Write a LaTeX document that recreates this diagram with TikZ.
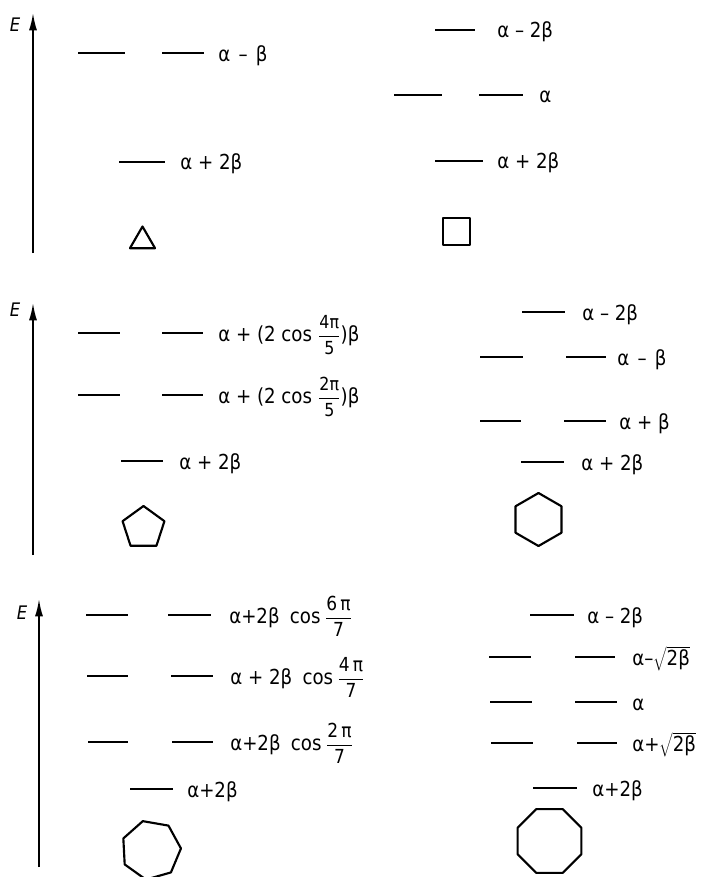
\documentclass[tikz,border=0pt]{standalone}
\usepackage{fontspec}
\setmainfont[FakeStretch=0.88]{DejaVu Sans}
\usetikzlibrary{arrows.meta}
\newcommand\fsm{\fontsize{13.5}{14}\selectfont}
\newcommand\fsb{\fontsize{14.5}{15}\selectfont}
\newcommand\fr[2]{$\displaystyle\frac{\mbox{\fsm #1}}{\mbox{\fsm #2}}$}
\newcommand\frb[2]{$\displaystyle\frac{\mbox{\fsb #1}}{\mbox{\fsb #2}}$}
\newcommand\sq[1]{$\sqrt{\mbox{#1}}$}
\newcommand\msp{\hspace{0.4em}}
\newcommand\ngon[6]{% cx cy R n n-1 a0
  \draw[poly] ({#1+#3*cos(#6)},{#2-#3*sin(#6)})
    \foreach \i in {1,...,#5}{ -- ({#1+#3*cos(#6+360*\i/#4)},{#2-#3*sin(#6+360*\i/#4)})} -- cycle;}
\begin{document}
\begin{tikzpicture}[x=0.75pt,y=-0.75pt,
  lvl/.style={line width=2.1pt},
  lab/.style={anchor=base west, inner sep=0pt, font=\fontsize{15.5}{17}\selectfont},
  axis/.style={line width=1.3pt, -{Latex[length=13pt,width=6pt]}},
  elab/.style={font=\fontsize{14}{15}\selectfont\itshape, inner sep=0pt},
  poly/.style={line width=1.6pt, line join=round}]
\useasboundingbox (0,0) rectangle (714,877);
% ---------- panel 1: triangle
\coordinate (A1s) at (33,253); \coordinate (A1e) at (33,13);
\draw[axis] (A1s) -- (A1e);
\node[elab] (E1) at (15,25) {E};
\draw[lvl] (78,53) -- (125,53); \draw[lvl] (162,53) -- (204,53);
\node[lab] (t1a) at (218,62) {α\msp–\msp β};
\draw[lvl] (119,162) -- (165,162);
\node[lab] (t1b) at (180,170) {α + 2β};
\ngon{142.5}{241}{14.5}{3}{2}{90}
% ---------- panel 2: square
\draw[lvl] (435,30) -- (475,30);
\node[lab] (t2a) at (497,38) {α – 2β};
\draw[lvl] (394,95) -- (442,95); \draw[lvl] (479,95) -- (523,95);
\node[lab] (t2b) at (539,103) {α};
\draw[lvl] (435,161) -- (483,161);
\node[lab] (t2c) at (497,169) {α + 2β};
\ngon{456.5}{231.5}{19.1}{4}{3}{45}
% ---------- panel 3: pentagon
\coordinate (A3s) at (33,555); \coordinate (A3e) at (33,303);
\draw[axis] (A3s) -- (A3e);
\node[elab] (E3) at (15,310) {E};
\draw[lvl] (78,333) -- (120,333); \draw[lvl] (162,333) -- (203,333);
\node[lab] (t3a) at (218,341) {α + (2 cos \fr{4π}{5})β};
\draw[lvl] (78,395) -- (120,395); \draw[lvl] (162,395) -- (203,395);
\node[lab] (t3b) at (218,403) {α + (2 cos \fr{2π}{5})β};
\draw[lvl] (121,461) -- (163,461);
\node[lab] (t3c) at (179,469) {α + 2β};
\ngon{143.5}{528}{22}{5}{4}{90}
% ---------- panel 4: hexagon
\draw[lvl] (522,312) -- (565,312);
\node[lab] (t4a) at (582,320) {α – 2β};
\draw[lvl] (480,357) -- (523,357); \draw[lvl] (566,357) -- (606,357);
\node[lab] (t4b) at (617,365) {α\msp–\msp β};
\draw[lvl] (480,421) -- (521,421); \draw[lvl] (564,421) -- (606,421);
\node[lab] (t4c) at (619,429) {α + β};
\draw[lvl] (521,462) -- (564,462);
\node[lab] (t4d) at (581,470) {α + 2β};
\ngon{538.5}{519.5}{26.5}{6}{5}{90}
% ---------- panel 5: heptagon
\coordinate (A5s) at (39,867); \coordinate (A5e) at (39,599);
\draw[axis] (A5s) -- (A5e);
\node[elab] (E5) at (22,613) {E};
\draw[lvl] (86,615) -- (128,615); \draw[lvl] (168,615) -- (211,615);
\node[lab] (t5a) at (229,623) {α+2β\hspace{0.5em}cos\hspace{0.2em}\frb{6\,π}{7}};
\draw[lvl] (87,676) -- (128,676); \draw[lvl] (171,676) -- (213,676);
\node[lab] (t5b) at (230,684) {α + 2β\hspace{0.5em}cos\hspace{0.2em}\frb{4\,π}{7}};
\draw[lvl] (88,742) -- (128,742); \draw[lvl] (172,742) -- (213,742);
\node[lab] (t5c) at (230,750) {α+2β\hspace{0.5em}cos\hspace{0.2em}\frb{2\,π}{7}};
\draw[lvl] (130,789) -- (173,789);
\node[lab] (t5d) at (187,797) {α+2β};
\ngon{151}{850}{30}{7}{6}{3}
% ---------- panel 6: octagon
\draw[lvl] (530,615) -- (574,615);
\node[lab] (t6a) at (587,623) {α – 2β};
\draw[lvl] (489,657) -- (531,657); \draw[lvl] (575,657) -- (615,657);
\node[lab] (t6b) at (632,665) {α–\sq{2β}};
\draw[lvl] (490,702) -- (532,702); \draw[lvl] (575,702) -- (617,702);
\node[lab] (t6c) at (632,710) {α};
\draw[lvl] (491,743) -- (533,743); \draw[lvl] (577,743) -- (617,743);
\node[lab] (t6d) at (632,751) {α+\sq{2β}};
\draw[lvl] (533,788) -- (577,788);
\node[lab] (t6e) at (592,796) {α+2β};
\ngon{549.5}{841}{34.5}{8}{7}{22.5}
\end{tikzpicture}
\end{document}
